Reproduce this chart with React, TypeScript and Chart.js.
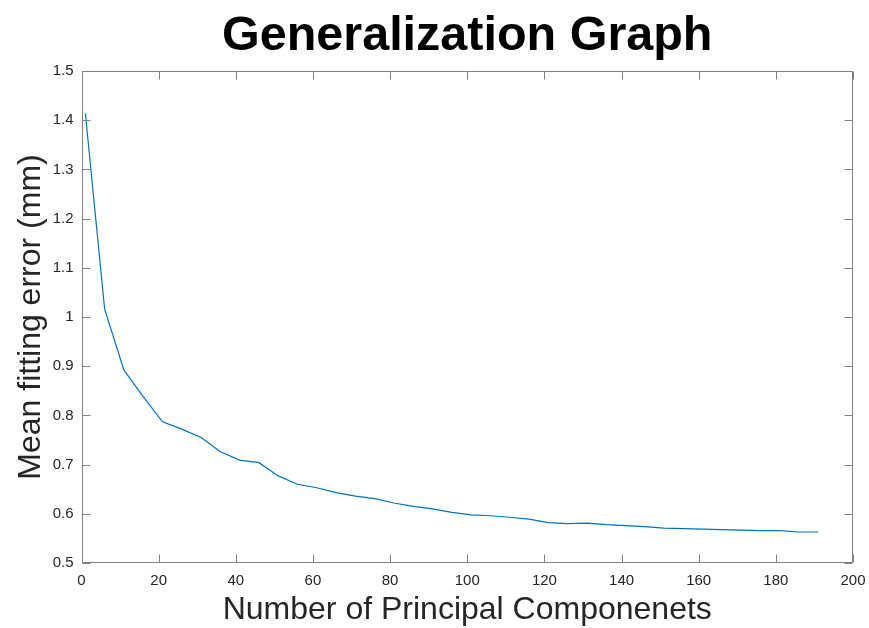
import React, { useEffect, useRef } from "react";
import { Chart, registerables } from "chart.js";

Chart.register(...registerables);

const components = [
  1, 6, 11, 16, 21, 26, 31, 36, 41, 46, 51, 56, 61, 66, 71, 76, 81, 86, 91, 96,
  101, 106, 111, 116, 121, 126, 131, 136, 141, 146, 151, 156, 161, 166, 171, 176,
  181, 186, 191,
];
const meanErrors = [
  1.414, 1.016, 0.892, 0.838, 0.787, 0.772, 0.755, 0.726, 0.709, 0.704, 0.677,
  0.66, 0.653, 0.643, 0.636, 0.631, 0.622, 0.615, 0.61, 0.603, 0.598, 0.596,
  0.593, 0.589, 0.582, 0.58, 0.581, 0.578, 0.576, 0.574, 0.571, 0.57, 0.569,
  0.568, 0.567, 0.566, 0.566, 0.563, 0.563,
];
const xTickRange = { min: 0, max: 200, step: 20 };
const yTickRange = { min: 0.5, max: 1.5, step: 0.1 };
const titleText = "Generalization Graph";
const xLabel = "Number of Principal Componenets";
const yLabel = "Mean fitting error (mm)";

const FONT = '"Liberation Sans", Arial, Helvetica, sans-serif';
const AXIS_COLOR = "#808080";
const TEXT_COLOR = "#262626";

const boxPlugin = {
  id: "matlabBox",
  afterDatasetsDraw(chart: any) {
    const { ctx, chartArea } = chart;
    const xs = chart.scales.x;
    const ys = chart.scales.y;
    const L = Math.round(chartArea.left) + 0.5;
    const R = Math.round(chartArea.right) - 0.5;
    const T = Math.round(chartArea.top) + 0.5;
    const B = Math.round(chartArea.bottom) - 0.5;
    const len = 8;
    ctx.save();
    ctx.strokeStyle = AXIS_COLOR;
    ctx.lineWidth = 1;
    ctx.beginPath();
    ctx.rect(L, T, R - L, B - T);
    xs.ticks.forEach((t: any) => {
      const px = Math.round(xs.getPixelForValue(t.value)) + 0.5;
      ctx.moveTo(px, B);
      ctx.lineTo(px, B - len);
      ctx.moveTo(px, T);
      ctx.lineTo(px, T + len);
    });
    ys.ticks.forEach((t: any) => {
      const py = Math.round(ys.getPixelForValue(t.value)) + 0.5;
      ctx.moveTo(L, py);
      ctx.lineTo(L + len, py);
      ctx.moveTo(R, py);
      ctx.lineTo(R - len, py);
    });
    ctx.stroke();
    ctx.restore();
  },
};

export default function App() {
  const ref = useRef<HTMLCanvasElement>(null);
  useEffect(() => {
    document.body.style.margin = "0";
    const canvas = ref.current;
    if (!canvas) return;
    const points = components.map((c, i) => ({ x: c, y: meanErrors[i] }));
    const chart = new Chart(canvas, {
      type: "line",
      data: {
        datasets: [
          {
            data: points,
            borderColor: "#0072BD",
            borderWidth: 1.2,
            pointRadius: 0,
            fill: false,
            tension: 0,
          },
        ],
      },
      options: {
        responsive: false,
        animation: false,
        devicePixelRatio: 1,
        layout: { padding: { left: 0, right: 16, top: 0, bottom: 0 } },
        plugins: {
          legend: { display: false },
          tooltip: { enabled: false },
          title: {
            display: true,
            text: titleText,
            fullSize: false,
            color: "#000000",
            font: { family: FONT, size: 48.5, weight: "bold", lineHeight: 1 },
            padding: { top: 12, bottom: 10.5 },
          },
        },
        scales: {
          x: {
            type: "linear",
            min: xTickRange.min,
            max: xTickRange.max,
            afterFit: (s: any) => {
              s.height = 65;
              s.paddingRight = 0;
              s.paddingLeft = 0;
            },
            grid: { display: false, drawTicks: false },
            border: { display: false },
            ticks: {
              stepSize: xTickRange.step,
              autoSkip: false,
              maxRotation: 0,
              padding: 9,
              color: TEXT_COLOR,
              font: { family: FONT, size: 15 },
            },
            title: {
              display: true,
              text: xLabel,
              color: TEXT_COLOR,
              font: { family: FONT, size: 32, lineHeight: 1 },
              padding: { top: 0, bottom: 2 },
            },
          },
          y: {
            type: "linear",
            min: yTickRange.min,
            max: yTickRange.max,
            afterFit: (s: any) => {
              s.width = 81.5;
              s.paddingTop = 0;
              s.paddingBottom = 0;
            },
            grid: { display: false, drawTicks: false },
            border: { display: false },
            ticks: {
              stepSize: yTickRange.step,
              autoSkip: false,
              padding: 8,
              color: TEXT_COLOR,
              font: { family: FONT, size: 15 },
              callback: (v: any) => String(Math.round(Number(v) * 10) / 10),
            },
            title: {
              display: true,
              text: yLabel,
              color: TEXT_COLOR,
              font: { family: FONT, size: 32, lineHeight: 1 },
              padding: { top: 15, bottom: 0 },
            },
          },
        },
      },
      plugins: [boxPlugin],
    });
    return () => chart.destroy();
  }, []);
  return (
    <canvas
      ref={ref}
      width={869}
      height={628}
      style={{ display: "block", width: 869, height: 628 }}
    />
  );
}
